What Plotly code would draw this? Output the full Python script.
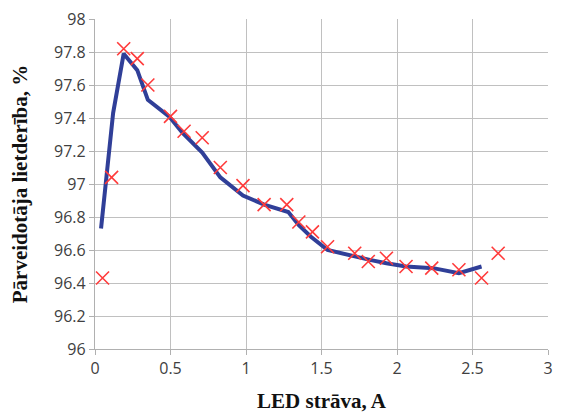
import plotly.graph_objects as go

line_x = [0.04, 0.12, 0.19, 0.28, 0.35, 0.49, 0.58, 0.71, 0.83, 0.98, 1.12, 1.28, 1.35, 1.43, 1.54, 1.71, 1.82, 1.93, 2.06, 2.24, 2.41, 2.56]
line_y = [96.73, 97.43, 97.79, 97.69, 97.51, 97.41, 97.31, 97.19, 97.04, 96.93, 96.875, 96.83, 96.75, 96.68, 96.60, 96.56, 96.54, 96.52, 96.50, 96.49, 96.46, 96.50]

mark_x = [0.05, 0.11, 0.19, 0.28, 0.35, 0.50, 0.59, 0.71, 0.83, 0.98, 1.12, 1.27, 1.35, 1.44, 1.54, 1.72, 1.81, 1.93, 2.06, 2.23, 2.41, 2.56, 2.67]
mark_y = [96.43, 97.04, 97.82, 97.76, 97.60, 97.41, 97.32, 97.28, 97.10, 96.99, 96.875, 96.875, 96.77, 96.71, 96.62, 96.58, 96.53, 96.55, 96.50, 96.49, 96.48, 96.43, 96.58]

x_ticks = [0, 0.5, 1, 1.5, 2, 2.5, 3]
x_tick_labels = ["0", "0.5", "1", "1.5", "2", "2.5", "3"]
y_ticks = [96, 96.2, 96.4, 96.6, 96.8, 97, 97.2, 97.4, 97.6, 97.8, 98]
y_tick_labels = ["96", "96.2", "96.4", "96.6", "96.8", "97", "97.2", "97.4", "97.6", "97.8", "98"]

fig = go.Figure()
fig.add_trace(go.Scatter(x=line_x, y=line_y, mode="lines",
                         line=dict(color="#303f98", width=4), showlegend=False))
fig.add_trace(go.Scatter(x=mark_x, y=mark_y, mode="markers",
                         marker=dict(symbol="x-thin", size=13, line=dict(color="#ff3b3b", width=1.6)),
                         showlegend=False))

axis_common = dict(showgrid=True, gridcolor="#c0c0c0", gridwidth=1.3,
                   showline=True, linecolor="#b0b0b0", linewidth=1.3,
                   ticks="outside", ticklen=5, tickcolor="#b0b0b0",
                   tickfont=dict(family="Open Sans", size=16, color="#404040"),
                   zeroline=False)

fig.update_xaxes(range=[0, 3], tickvals=x_ticks, ticktext=x_tick_labels,
                 title=dict(text="<b>LED strāva, A</b>", font=dict(family="Liberation Serif", size=21, color="#111"), standoff=14),
                 **axis_common)
fig.update_yaxes(range=[96, 98], tickvals=y_ticks, ticktext=y_tick_labels,
                 title=dict(text="<b>Pārveidotāja lietderība, %</b>", font=dict(family="Liberation Serif", size=21, color="#111"), standoff=20),
                 **axis_common)

fig.update_layout(width=561, height=416, margin=dict(l=95, r=8, t=14, b=64),
                  plot_bgcolor="white", paper_bgcolor="white")

fig.write_html("out.html")
